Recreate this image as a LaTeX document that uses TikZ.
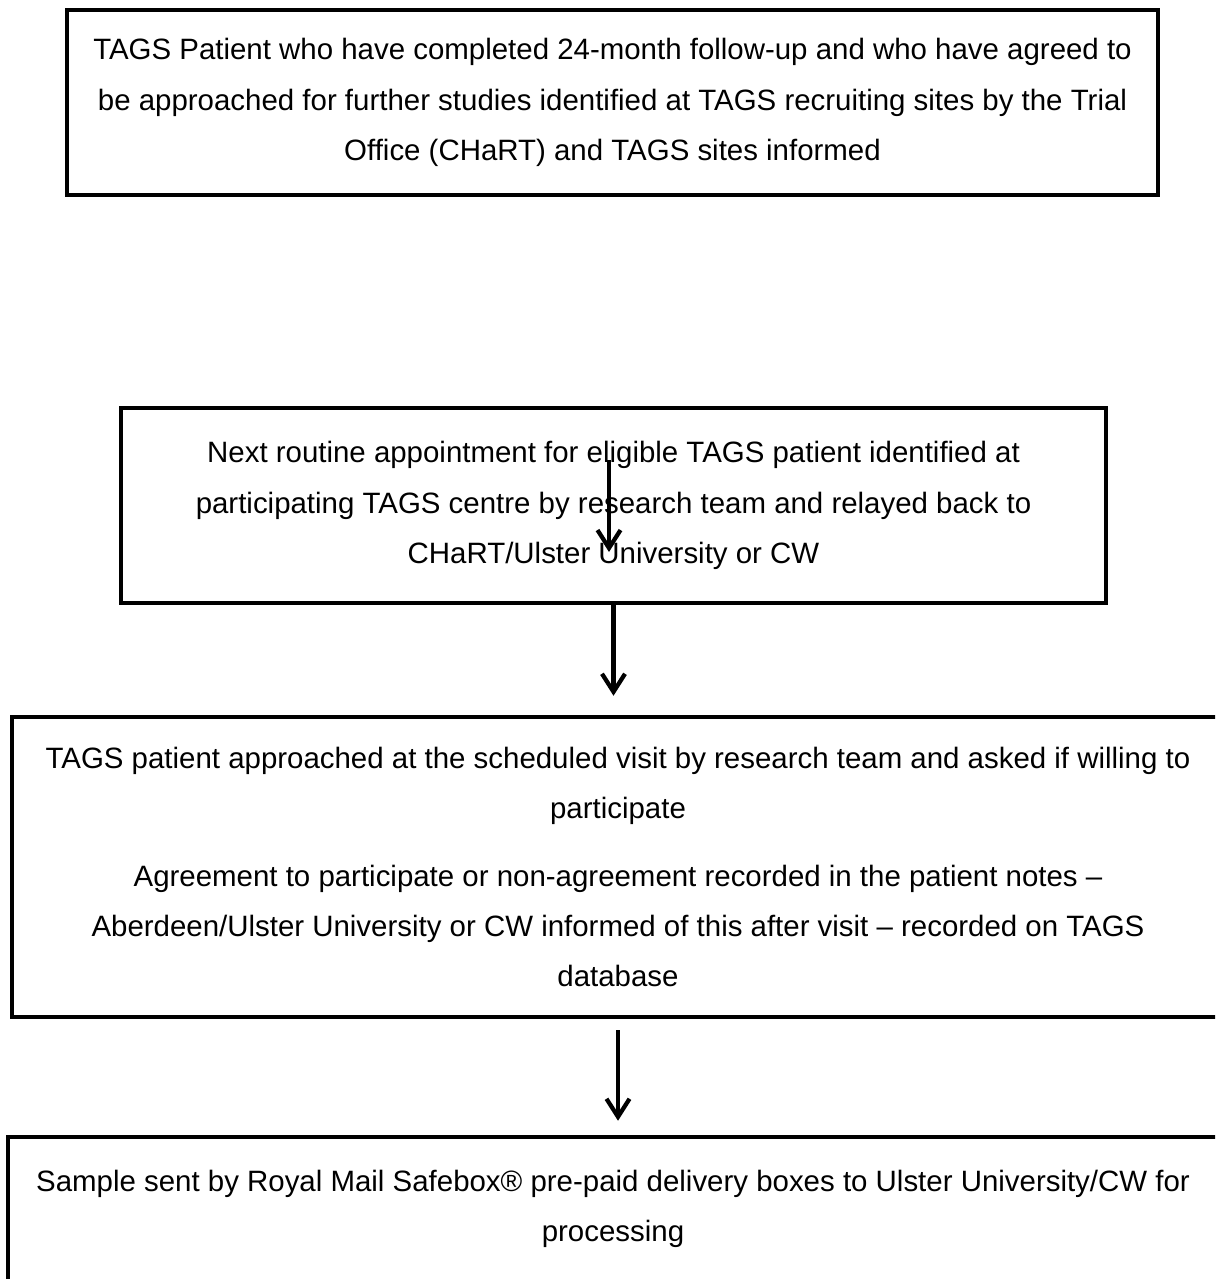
\documentclass[tikz,border=0pt]{standalone}
\usepackage{fontspec}
\setmainfont{Liberation Sans}
\usetikzlibrary{arrows.meta}

\begin{document}
\begin{tikzpicture}[
    stage/.style={draw,line width=0.09cm,align=center,inner sep=0pt,
      font=\fontsize{16.75}{28.7}\selectfont},
    arr/.style={-{Straight Barb[length=0.36cm,width=0.46cm]},line width=0.085cm}]
    % page
    \useasboundingbox (0,0) rectangle (24.3,-25.58);
    \clip (0,0) rectangle (24.3,-25.58);

    % boxes
    \node[stage,minimum width=21.82cm,minimum height=3.7cm] (office) at (12.25,-2.05)
      {TAGS Patient who have completed 24-month follow-up and who have agreed to\\
       be approached for further studies identified at TAGS recruiting sites by the Trial\\
       Office (CHaRT) and TAGS sites informed};
    \node[stage,minimum width=19.7cm,minimum height=3.9cm] (appt) at (12.27,-10.11)
      {Next routine appointment for eligible TAGS patient identified at\\
       participating TAGS centre by research team and relayed back to\\
       CHaRT/Ulster University or CW};
    \node[stage,minimum width=24.24cm,minimum height=6cm] (visit) at (12.36,-17.34)
      {TAGS patient approached at the scheduled visit by research team and asked if willing to\\
       participate\\[0.34cm]
       Agreement to participate or non-agreement recorded in the patient notes –\\
       Aberdeen/Ulster University or CW informed of this after visit – recorded on TAGS\\
       database};
    \node[stage,minimum width=24.2cm,minimum height=2.88cm] (sample) at (12.26,-24.18)
      {Sample sent by Royal Mail Safebox® pre-paid delivery boxes to Ulster University/CW for\\
       processing};

    % arrows
    \coordinate (stray top) at (12.18,-9.2);
    \coordinate (stray tip) at (12.18,-11.04);
    \draw[arr] (stray top) -- (stray tip);
    \draw[arr,shorten >=0.38cm] (appt.south) -- (appt.south |- visit.north);
    \draw[arr,shorten <=0.22cm,shorten >=0.28cm] (visit.south) -- (visit.south |- sample.north);
\end{tikzpicture}
\end{document}
